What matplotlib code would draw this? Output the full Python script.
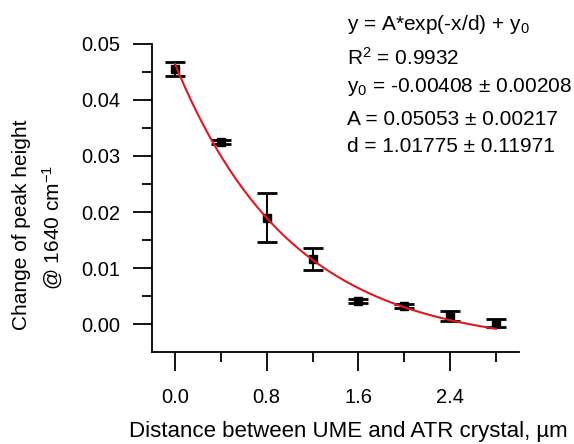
import numpy as np
import matplotlib
matplotlib.use("Agg")
import matplotlib.pyplot as plt
from matplotlib.ticker import MultipleLocator, FixedLocator, FormatStrFormatter

plt.rcParams['font.family'] = ['Liberation Sans', 'DejaVu Sans']
plt.rcParams['mathtext.fontset'] = 'custom'
plt.rcParams['mathtext.rm'] = 'Liberation Sans'
plt.rcParams['mathtext.it'] = 'Liberation Sans'

# Measured points: distance (µm), peak-height change and its error
distance = [0.0, 0.4, 0.8, 1.2, 1.6, 2.0, 2.4, 2.8]
peak_change = [0.0455, 0.0325, 0.0190, 0.0116, 0.0041, 0.0032, 0.0015, 0.0002]
peak_error = [0.0013, 0.0003, 0.0044, 0.0019, 0.0003, 0.0003, 0.0009, 0.0007]

# Exponential fit parameters
fit_y0 = -0.00408
fit_A = 0.05053
fit_d = 1.01775
fit_R2 = 0.9932
err_y0 = 0.00208
err_A = 0.00217
err_d = 0.11971

W, H = 574, 444
fig = plt.figure(figsize=(W / 100, H / 100), dpi=100)
ax = fig.add_axes([152 / W, 1 - 352 / H, 367 / W, 308 / H])

xs = np.linspace(min(distance), max(distance), 300)
ax.plot(xs, fit_A * np.exp(-xs / fit_d) + fit_y0, color='#e3171e', lw=1.5, zorder=3)

ax.errorbar(distance, peak_change, yerr=peak_error, fmt='s', color='black',
            ms=6, elinewidth=1.4, capsize=7, capthick=2.0, zorder=2)

ax.set_xlim(-0.2, 3.0)
ax.set_ylim(-0.005, 0.05)

for side in ('top', 'right'):
    ax.spines[side].set_visible(False)
for side in ('left', 'bottom'):
    ax.spines[side].set_linewidth(1.3)

ax.xaxis.set_major_locator(MultipleLocator(0.8))
ax.xaxis.set_minor_locator(MultipleLocator(0.4))
ax.xaxis.set_major_formatter(FormatStrFormatter('%.1f'))
ax.yaxis.set_major_locator(FixedLocator([0.0, 0.01, 0.02, 0.03, 0.04, 0.05]))
ax.yaxis.set_minor_locator(FixedLocator([0.005, 0.015, 0.025, 0.035, 0.045]))
ax.yaxis.set_major_formatter(FormatStrFormatter('%.2f'))

ax.tick_params(which='major', direction='out', length=14, width=1.3,
               labelsize=14.5, pad=9)
ax.tick_params(which='minor', direction='out', length=7.5, width=1.3)
ax.tick_params(axis='x', which='major', pad=12)

fig.text(348 / W, 1 - 437 / H, 'Distance between UME and ATR crystal, µm',
         ha='center', va='baseline', fontsize=16)
fig.text(22 / W, 1 - 225 / H, 'Change of peak height', rotation=90,
         ha='center', va='center', fontsize=15)
fig.text(53 / W, 1 - 227 / H, '@ 1640 cm$^{-1}$', rotation=90,
         ha='center', va='center', fontsize=15)

tx = 347 / W
lines = [
    (30, r'y = A*exp(-x/d) + y$_{0}$'),
    (65, r'R$^{2}$ = ' + f'{fit_R2:.4f}'),
    (92, r'y$_{0}$ = ' + f'{fit_y0:.5f} ± {err_y0:.5f}'),
    (125, f'A = {fit_A:.5f} ± {err_A:.5f}'),
    (152, f'd = {fit_d:.5f} ± {err_d:.5f}'),
]
for yb, s in lines:
    fig.text(tx, 1 - yb / H, s, ha='left', va='baseline', fontsize=15)

fig.savefig('out.png', dpi=100)
